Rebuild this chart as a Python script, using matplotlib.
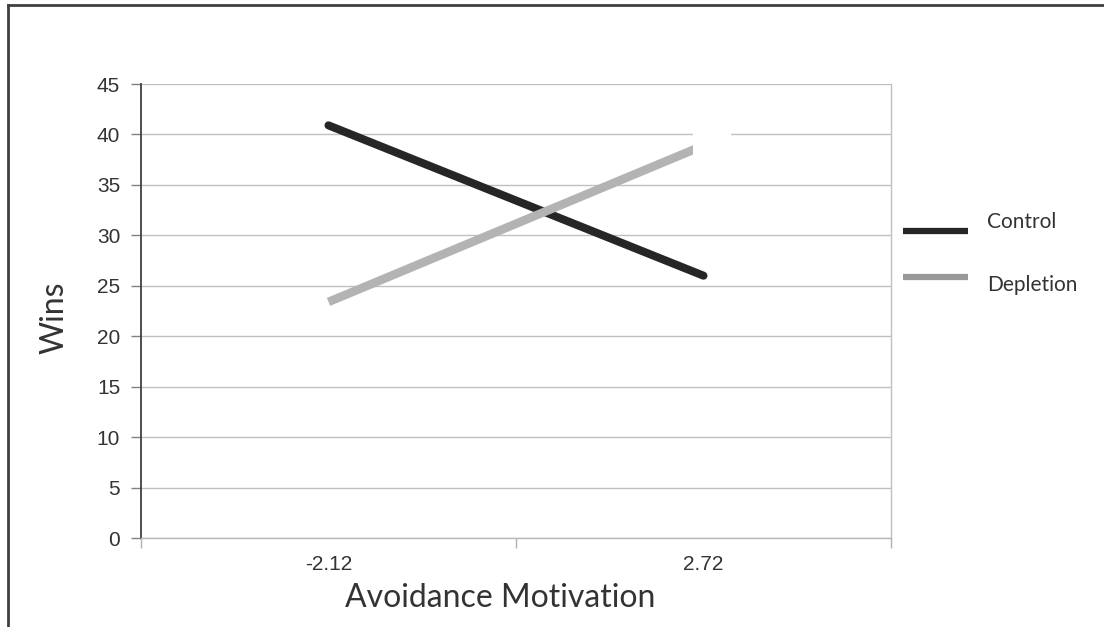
import matplotlib
matplotlib.use("Agg")
import matplotlib.pyplot as plt
from matplotlib.lines import Line2D
from matplotlib.patches import Rectangle

categories = ["-2.12", "2.72"]
series_names = ["Control", "Depletion"]
control = [40.9, 26.0]
depletion = [23.4, 38.9]
yticks = [0, 5, 10, 15, 20, 25, 30, 35, 40, 45]

W, H = 1104, 627
fig = plt.figure(figsize=(W / 100, H / 100), dpi=100)
fig.patch.set_facecolor("white")
ax = fig.add_axes([141 / W, 1 - 538 / H, 750 / W, 454 / H])

x = list(range(len(categories)))
ax.plot(x, control, color="#262626", lw=5.8, solid_capstyle="round", zorder=3)
ax.plot(x, depletion, color="#b3b3b3", lw=6.2, solid_capstyle="butt", zorder=3)

# white patch covering depletion line end (as in reference)
ax.add_patch(Rectangle((0.972, 37.3), 0.1, 3.5, facecolor="white", edgecolor="none", zorder=4))

ax.set_xlim(-0.5, 1.5)
ax.set_ylim(0, 45)
ax.set_yticks(yticks)
ax.set_yticklabels([str(v) for v in yticks], fontsize=15, color="#333333",
                   fontfamily="Liberation Sans")
ax.set_xticks(x)
ax.set_xticklabels(categories, fontsize=15, color="#333333", fontfamily="Liberation Sans")
ax.tick_params(axis="x", which="major", length=0, pad=12)
ax.set_xticks([-0.5, 0.5, 1.5], minor=True)
ax.tick_params(axis="x", which="minor", length=7, color="#b0b0b0", width=1, direction="out")
ax.tick_params(axis="y", length=7, color="#808080", width=1, direction="out", pad=8)

ax.grid(axis="y", color="#c0c0c0", lw=1, zorder=1)
ax.set_axisbelow(True)
ax.spines["top"].set_visible(False)
ax.spines["left"].set_color("#404040")
ax.spines["left"].set_linewidth(1.3)
ax.spines["right"].set_color("#c0c0c0")
ax.spines["right"].set_linewidth(1)
ax.spines["bottom"].set_color("#b8b8b8")
ax.spines["bottom"].set_linewidth(1)

ax.set_ylabel("Wins", fontsize=23, color="#333333", fontfamily="Lato", va="center")
ax.yaxis.set_label_coords(-0.115, 0.485)
ax.set_xlabel("Avoidance Motivation", fontsize=23, color="#333333", fontfamily="Lato", va="center")
ax.xaxis.set_label_coords(0.479, -0.132)

# legend drawn manually
leg_colors = ["#262626", "#999999"]
leg_line_y = [231, 277]
leg_text_y = [222, 285]
for name, c, ly, ty in zip(series_names, leg_colors, leg_line_y, leg_text_y):
    fig.add_artist(Line2D([903 / W, 968 / W], [1 - ly / H, 1 - ly / H], color=c, lw=4.5,
                          solid_capstyle="butt"))
    fig.text(987 / W, 1 - ty / H, name, fontsize=15, color="#333333", fontfamily="Lato",
             va="center", ha="left")

# figure frame (left and top)
fig.add_artist(Line2D([8 / W, 8 / W], [0, 1 - 5 / H], color="#404040", lw=2))
fig.add_artist(Line2D([8 / W, 1], [1 - 5 / H, 1 - 5 / H], color="#404040", lw=2))

fig.savefig("out.png", dpi=100, facecolor="white")
